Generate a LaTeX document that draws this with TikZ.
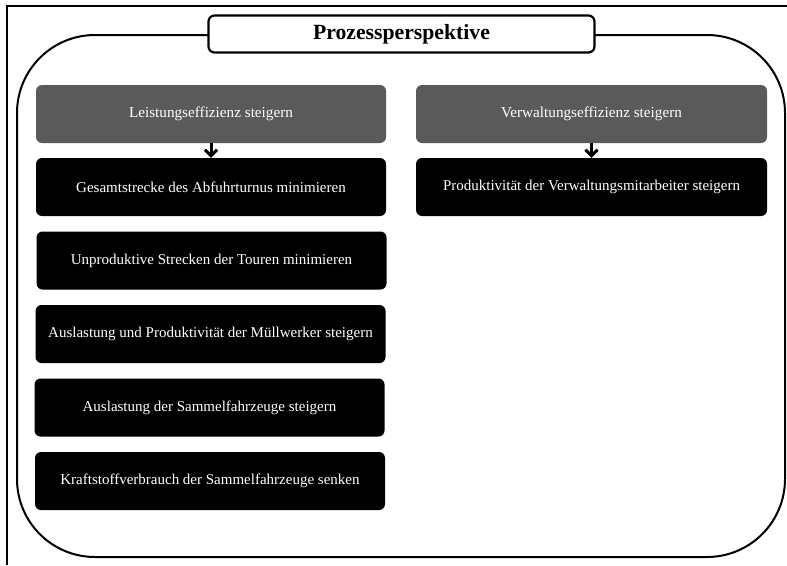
\documentclass[tikz,border=0pt]{standalone}
\usepackage{fontspec}
\setmainfont{Liberation Serif}
\usetikzlibrary{arrows.meta}
\definecolor{headgray}{HTML}{5A5A5A}
\tikzset{
  goalhead/.style={draw=none, fill=headgray, rounded corners=6pt,
    minimum width=350pt, minimum height=58pt, text=white,
    font=\fontsize{15.2}{17}\selectfont, inner sep=0pt},
  goalbox/.style={draw=none, fill=black, rounded corners=6pt,
    minimum width=350pt, minimum height=58pt, text=white,
    font=\fontsize{15}{17}\selectfont, inner sep=0pt},
  titlebox/.style={draw=black, fill=white, line width=2.2pt, rounded corners=6pt,
    minimum width=386pt, minimum height=37pt, inner sep=0pt,
    font=\fontsize{21.7}{24}\selectfont\bfseries},
  linkarrow/.style={line width=3pt, -{Straight Barb[length=6pt,width=12pt]}}
}
\begin{document}
\begin{tikzpicture}[x=1pt, y=-1pt]
  \useasboundingbox (0,0) rectangle (787,565);
  % page frame (open to the right and bottom)
  \draw[line width=1.4pt] (7,565) -- (7,6) -- (787,6);
  % perspective frame
  \draw[line width=2pt, rounded corners=78pt] (17,35) rectangle (785,557);
  \node[titlebox] (title) at (401.5,34) {Prozessperspektive};

  % left column
  \node[goalhead] (leist) at (211,114) {Leistungseffizienz steigern};
  \node[goalbox] (g1) at (211,187) {Gesamtstrecke des Abfuhrturnus minimieren};
  \node[goalbox] (g2) at (211.5,260.5) {Unproduktive Strecken der Touren minimieren};
  \node[goalbox] (g3) at (210.5,334) {Auslastung und Produktivität der Müllwerker steigern};
  \node[goalbox] (g4) at (209.5,407.5) {Auslastung der Sammelfahrzeuge steigern};
  \node[goalbox] (g5) at (210,481) {Kraftstoffverbrauch der Sammelfahrzeuge senken};

  % right column
  \node[goalhead, minimum width=351pt] (verw) at (591.5,114) {Verwaltungseffizienz steigern};
  \node[goalbox, minimum width=351pt] (r1) at (591.5,187) {Produktivität der Verwaltungsmitarbeiter steigern};

  \draw[linkarrow] (leist.south) -- (g1.north);
  \draw[linkarrow] (verw.south) -- (r1.north);
\end{tikzpicture}
\end{document}
